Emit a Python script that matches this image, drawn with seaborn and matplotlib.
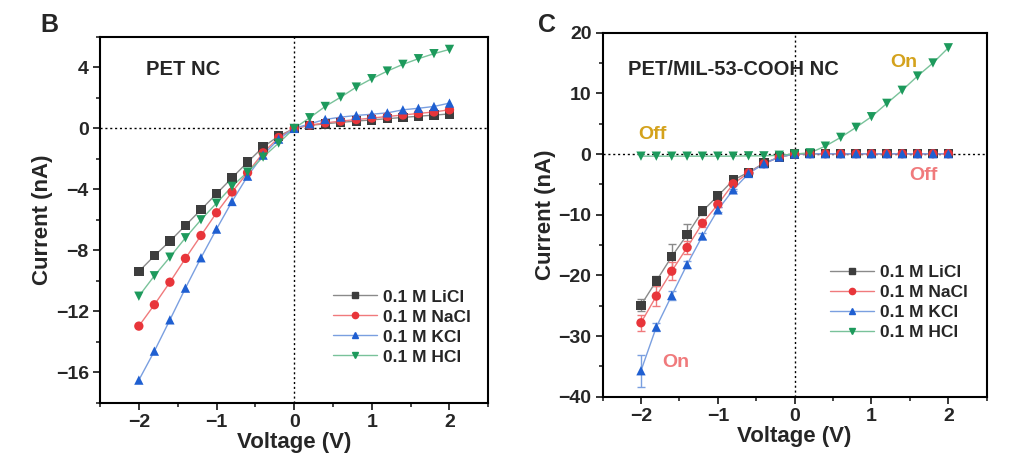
import numpy as np
import pandas as pd
import matplotlib
matplotlib.use("Agg")
import matplotlib.pyplot as plt
import seaborn as sns
from matplotlib.ticker import MultipleLocator
from matplotlib.lines import Line2D

sns.set_style("ticks")
plt.rcParams['font.family'] = ['Liberation Sans', 'DejaVu Sans']
plt.rcParams['font.weight'] = 'bold'
plt.rcParams['axes.labelweight'] = 'bold'

voltage = [-2.0, -1.8, -1.6, -1.4, -1.2, -1.0, -0.8, -0.6, -0.4, -0.2, 0.0,
           0.2, 0.4, 0.6, 0.8, 1.0, 1.2, 1.4, 1.6, 1.8, 2.0]
solutions = ["0.1 M LiCl", "0.1 M NaCl", "0.1 M KCl", "0.1 M HCl"]

# Panel B: PET NC
pet_licl = [-9.38, -8.35, -7.39, -6.36, -5.33, -4.28, -3.24, -2.21, -1.22, -0.5, 0.0,
            0.2, 0.3, 0.4, 0.48, 0.56, 0.64, 0.72, 0.8, 0.87, 0.95]
pet_nacl = [-12.96, -11.56, -10.08, -8.52, -7.02, -5.53, -4.17, -2.9, -1.6, -0.6, 0.0,
            0.22, 0.36, 0.48, 0.58, 0.68, 0.78, 0.88, 0.98, 1.08, 1.22]
pet_kcl = [-16.5, -14.6, -12.55, -10.47, -8.48, -6.6, -4.79, -3.13, -1.75, -0.7, 0.0,
           0.3, 0.59, 0.74, 0.85, 0.93, 1.02, 1.22, 1.32, 1.44, 1.66]
pet_hcl = [-11.0, -9.66, -8.44, -7.17, -5.99, -4.9, -3.8, -2.86, -1.88, -0.96, 0.0,
           0.7, 1.44, 2.05, 2.71, 3.26, 3.76, 4.2, 4.57, 4.9, 5.18]

# Panel C: PET/MIL-53-COOH NC
mil_licl = [-24.9, -20.9, -16.9, -13.3, -9.4, -6.9, -4.3, -3.0, -1.5, -0.5, 0.0,
            0.05, 0.05, 0.05, 0.05, 0.05, 0.05, 0.05, 0.05, 0.05, 0.05]
mil_nacl = [-27.8, -23.4, -19.3, -15.4, -11.4, -8.3, -4.9, -3.1, -1.6, -0.5, 0.0,
            0.05, 0.05, 0.05, 0.05, 0.05, 0.05, 0.05, 0.05, 0.05, 0.05]
mil_kcl = [-35.7, -28.5, -23.3, -18.2, -13.5, -9.2, -5.9, -3.2, -1.6, -0.5, 0.0,
           0.05, 0.05, 0.05, 0.05, 0.05, 0.05, 0.05, 0.05, 0.05, 0.05]
mil_hcl = [-0.35, -0.35, -0.35, -0.35, -0.35, -0.35, -0.35, -0.3, -0.3, -0.2, 0.0,
           0.2, 1.3, 2.75, 4.4, 6.15, 8.35, 10.5, 12.85, 15.0, 17.5]
mil_licl_err = [1.0, 0.8, 2.0, 1.8, 0.6, 0.4, 0.2, 0.1, 0.1, 0.0, 0.0,
                0, 0, 0, 0, 0, 0, 0, 0, 0, 0]
mil_nacl_err = [1.3, 1.7, 1.5, 1.0, 0.6, 0.4, 0.2, 0.1, 0.1, 0.0, 0.0,
                0, 0, 0, 0, 0, 0, 0, 0, 0, 0]
mil_kcl_err = [2.6, 0.6, 0.8, 0.6, 0.5, 0.4, 0.2, 0.1, 0.1, 0.0, 0.0,
               0, 0, 0, 0, 0, 0, 0, 0, 0, 0]

palette = {"0.1 M LiCl": "#3d3d3d", "0.1 M NaCl": "#e8353a",
           "0.1 M KCl": "#1f5fd1", "0.1 M HCl": "#1d9a5c"}
line_palette = {"0.1 M LiCl": "#8a8a8a", "0.1 M NaCl": "#f07a7c",
                "0.1 M KCl": "#7a9fe0", "0.1 M HCl": "#79c29a"}
markers = {"0.1 M LiCl": "s", "0.1 M NaCl": "o", "0.1 M KCl": "^", "0.1 M HCl": "v"}


def make_df(series):
    rows = []
    for name, vals in zip(solutions, series):
        for v, c in zip(voltage, vals):
            rows.append({"Voltage": v, "Current": c, "Solution": name})
    return pd.DataFrame(rows)


df_b = make_df([pet_licl, pet_nacl, pet_kcl, pet_hcl])
df_c = make_df([mil_licl, mil_nacl, mil_kcl, mil_hcl])

fig = plt.figure(figsize=(10.3, 4.73), dpi=100)
ax1 = fig.add_axes([0.0971, 0.148, 0.377, 0.774])
ax2 = fig.add_axes([0.585, 0.161, 0.373, 0.770])


def draw(ax, df):
    sns.lineplot(data=df, x="Voltage", y="Current", hue="Solution",
                 palette=line_palette, hue_order=solutions, ax=ax,
                 linewidth=1.0, legend=False, zorder=2)
    sns.scatterplot(data=df, x="Voltage", y="Current", hue="Solution",
                    style="Solution", markers=markers, palette=palette,
                    hue_order=solutions, style_order=solutions, ax=ax,
                    s=45, linewidth=0, legend=False, zorder=3)


draw(ax1, df_b)
draw(ax2, df_c)

for name, vals, err in zip(solutions[:3], [mil_licl, mil_nacl, mil_kcl],
                           [mil_licl_err, mil_nacl_err, mil_kcl_err]):
    ax2.errorbar(voltage, vals, yerr=err, fmt="none", ecolor=line_palette[name],
                 elinewidth=1.0, capsize=3, capthick=1.0, zorder=1)

for ax in (ax1, ax2):
    ax.axhline(0, color="black", linestyle=(0, (1.5, 2)), linewidth=1.0, zorder=1)
    ax.axvline(0, color="black", linestyle=(0, (1.5, 2)), linewidth=1.0, zorder=1)
    ax.set_xlim(-2.5, 2.5)
    ax.xaxis.set_minor_locator(MultipleLocator(0.5))
    ax.set_xticks([-2, -1, 0, 1, 2])
    ax.set_xticklabels(["\u22122", "\u22121", "0", "1", "2"])
    ax.set_xlabel("Voltage (V)", fontsize=16, fontweight="bold", labelpad=1)
    ax.set_ylabel("Current (nA)", fontsize=16, fontweight="bold", labelpad=2)
    ax.tick_params(axis="both", which="major", direction="out", length=5,
                   width=1.3, labelsize=14, pad=3)
    ax.tick_params(axis="both", which="minor", direction="out", length=3, width=1.2)
    for sp in ax.spines.values():
        sp.set_linewidth(1.5)
        sp.set_color("black")
        sp.set_visible(True)

ax1.set_ylim(-18, 6)
ax1.set_yticks([-16, -12, -8, -4, 0, 4])
ax1.set_yticklabels(["\u221216", "\u221212", "\u22128", "\u22124", "0", "4"])
ax1.yaxis.set_minor_locator(MultipleLocator(2))

ax2.set_ylim(-40, 20)
ax2.set_yticks([-40, -30, -20, -10, 0, 10, 20])
ax2.set_yticklabels(["\u221240", "\u221230", "\u221220", "\u221210", "0", "10", "20"])
ax2.yaxis.set_minor_locator(MultipleLocator(5))

for ax in (ax1, ax2):
    for lab in ax.get_xticklabels() + ax.get_yticklabels():
        lab.set_fontweight("bold")


def legend(ax, loc):
    handles = [Line2D([0], [0], color=line_palette[n], lw=1.0, marker=markers[n],
                      markerfacecolor=palette[n], markeredgecolor=palette[n],
                      markersize=4.5) for n in solutions]
    ax.legend(handles, solutions, loc="lower right", bbox_to_anchor=loc,
              frameon=False, handlelength=2.5, handletextpad=0.35,
              labelspacing=0.28, borderpad=0, borderaxespad=0,
              prop={"weight": "bold", "size": 12.5})


legend(ax1, (0.955, 0.105))
legend(ax2, (0.95, 0.155))

ax1.text(0.119, 0.91, "PET NC", transform=ax1.transAxes, fontsize=14.5,
         fontweight="bold", va="center")
ax2.text(0.065, 0.9, "PET/MIL-53-COOH NC", transform=ax2.transAxes, fontsize=14.5,
         fontweight="bold", va="center")
ax2.text(1.42, 15.0, "On", color="#d4a21c", fontsize=14, fontweight="bold", ha="center", va="center")
ax2.text(-1.85, 3.3, "Off", color="#d4a21c", fontsize=14, fontweight="bold", ha="center", va="center")
ax2.text(1.68, -3.6, "Off", color="#f07a7c", fontsize=14, fontweight="bold", ha="center", va="center")
ax2.text(-1.55, -34.3, "On", color="#f07a7c", fontsize=14, fontweight="bold", ha="center", va="center")

fig.text(40 / 1030, 1 - 25 / 473, "B", fontsize=18, fontweight="bold", va="center", ha="left")
fig.text(538 / 1030, 1 - 25 / 473, "C", fontsize=18, fontweight="bold", va="center", ha="left")

fig.savefig("out.png", dpi=100, facecolor="white")
